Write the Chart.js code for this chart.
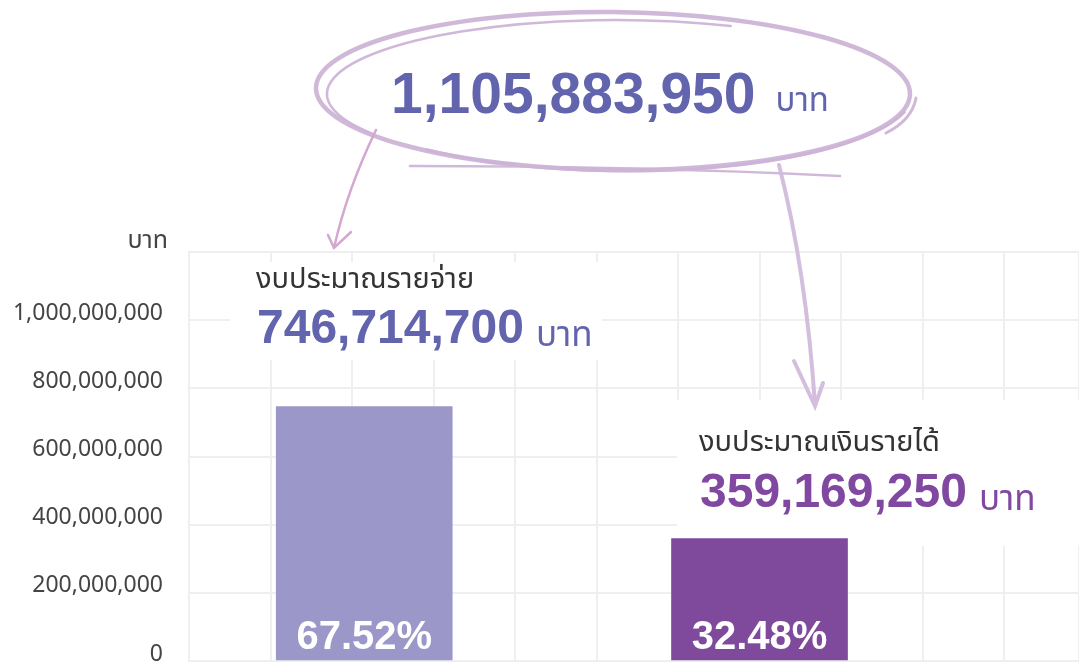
<!DOCTYPE html>
<html>
<head>
<meta charset="utf-8">
<script src="https://cdn.jsdelivr.net/npm/chart.js@4.4.1/dist/chart.umd.min.js"></script>
<style>
  html, body { margin: 0; padding: 0; background: #fff; }
  canvas { display: block; }
</style>
</head>
<body>
<canvas id="budget" width="1079" height="667"></canvas>
<script>
const categories = ['งบประมาณรายจ่าย', 'งบประมาณเงินรายได้'];
const budgetValues = [746714700, 359169250];
const yTicks = [0, 200000000, 400000000, 600000000, 800000000, 1000000000];
const unit = 'บาท';

const barColors = ['#9b97c9', '#7f4a9c'];
const valueColors = ['#6264ad', '#8048a0'];
// where each bar sits on the background grid (grid cells from the left edge)
const barSlots = [2.15, 7.0];

const total = budgetValues.reduce((a, b) => a + b, 0);
const shares = budgetValues.map(v => (v / total * 100).toFixed(2) + '%');
const fmt = n => n.toLocaleString('en-US');

const NUM_FONT = "'Liberation Sans', Arial, sans-serif";
const THAI_FONT = "'Noto Sans Thai', 'Noto Sans', sans-serif";

function arc(ctx, cx, cy, rx, ry, rot, a0, a1, width) {
  ctx.lineWidth = width;
  ctx.beginPath();
  ctx.ellipse(cx, cy, rx, ry, rot, a0, a1);
  ctx.stroke();
}

const decor = {
  id: 'decor',
  beforeDatasetsDraw(chart) {
    // white panels behind the two captions
    const ctx = chart.ctx;
    ctx.save();
    ctx.fillStyle = '#fff';
    ctx.fillRect(230, 262, 372, 98);
    ctx.fillRect(677, 400, 402, 146);
    ctx.restore();
  },
  afterDraw(chart) {
    const ctx = chart.ctx;
    const bars = chart.getDatasetMeta(0).data;
    const PI = Math.PI;
    ctx.save();
    ctx.lineCap = 'round';

    // scribbled ellipse round the total
    ctx.strokeStyle = 'rgba(206,180,215,0.95)';
    arc(ctx, 613, 91, 297, 79, 0.01, 0, PI * 2, 4.5);
    arc(ctx, 616, 94, 289, 74, 0, PI * 0.82, PI * 1.63, 2.5);
    arc(ctx, 617, 88, 297, 83, 0.012, PI * 0.08, PI * 0.72, 3);
    ctx.lineWidth = 3;
    ctx.beginPath();
    ctx.moveTo(916, 98);
    ctx.quadraticCurveTo(912, 120, 886, 133);
    ctx.stroke();
    ctx.lineWidth = 2.5;
    ctx.beginPath();
    ctx.moveTo(410, 166);
    ctx.quadraticCurveTo(640, 166, 840, 176);
    ctx.stroke();

    // arrows from the total down to each caption
    ctx.strokeStyle = '#d4a7d0';
    ctx.lineWidth = 2.5;
    ctx.beginPath();
    ctx.moveTo(376, 130);
    ctx.quadraticCurveTo(347, 190, 334, 248);
    ctx.moveTo(328, 235);
    ctx.lineTo(334, 248);
    ctx.lineTo(351, 232);
    ctx.stroke();
    ctx.strokeStyle = 'rgba(210,186,220,0.95)';
    ctx.lineWidth = 4;
    ctx.beginPath();
    ctx.moveTo(779, 165);
    ctx.quadraticCurveTo(806, 270, 815, 405);
    ctx.moveTo(794, 361);
    ctx.lineTo(815, 406);
    ctx.lineTo(823, 383);
    ctx.stroke();

    // total
    ctx.textBaseline = 'alphabetic';
    ctx.textAlign = 'left';
    ctx.fillStyle = '#6264ad';
    ctx.font = 'bold 57px ' + NUM_FONT;
    const totalText = fmt(total);
    ctx.fillText(totalText, 391, 113);
    const tw = ctx.measureText(totalText).width;
    ctx.font = '33px ' + THAI_FONT;
    ctx.fillText(unit, 391 + tw + 20, 111);

    // captions
    const captions = [
      { x: 256, nameY: 288, valueY: 343 },
      { x: 699, nameY: 451, valueY: 507 }
    ];
    captions.forEach((c, i) => {
      ctx.fillStyle = '#333';
      ctx.font = '29px ' + THAI_FONT;
      ctx.fillText(categories[i], c.x, c.nameY);
      ctx.fillStyle = valueColors[i];
      ctx.font = 'bold 48px ' + NUM_FONT;
      const txt = fmt(budgetValues[i]);
      ctx.fillText(txt, c.x + 1, c.valueY);
      const w = ctx.measureText(txt).width;
      ctx.font = '35px ' + THAI_FONT;
      ctx.fillText(unit, c.x + 1 + w + 12, c.valueY + 3);
    });

    // shares inside the bars
    ctx.fillStyle = '#fff';
    ctx.textAlign = 'center';
    ctx.font = 'bold 40px ' + NUM_FONT;
    bars.forEach((bar, i) => ctx.fillText(shares[i], bar.x, 649));

    // unit over the value axis
    const y = chart.scales.y;
    ctx.fillStyle = '#444';
    ctx.textAlign = 'right';
    ctx.font = '25px ' + THAI_FONT;
    ctx.fillText(unit, 168, y.top - 4);
    ctx.restore();
  }
};

new Chart(document.getElementById('budget'), {
  type: 'bar',
  data: {
    datasets: [{
      label: unit,
      data: budgetValues.map((v, i) => ({ x: barSlots[i], y: v })),
      backgroundColor: barColors,
      borderWidth: 0,
      barThickness: 176
    }]
  },
  options: {
    responsive: false,
    animation: false,
    layout: { padding: { top: 252, left: 0, right: 0, bottom: 6 } },
    plugins: { legend: { display: false }, tooltip: { enabled: false } },
    scales: {
      x: {
        type: 'linear',
        min: 0,
        max: 10.92,
        offset: false,
        afterFit(scale) { scale.height = 0; },
        ticks: { display: false, stepSize: 1 },
        grid: { color: '#efefef', lineWidth: 2, drawTicks: false, offset: false },
        border: { color: '#efefef', width: 2 }
      },
      y: {
        min: 0,
        max: 1200000000,
        afterFit(scale) {
          scale.width = 189;
          scale.paddingTop = 0;
          scale.paddingBottom = 0;
        },
        afterBuildTicks(scale) {
          scale.ticks = yTicks.concat([1200000000]).map(v => ({ value: v }));
        },
        ticks: {
          padding: 26,
          labelOffset: -7,
          color: '#444',
          font: { family: "'Noto Sans', sans-serif", size: 23 },
          callback: v => yTicks.includes(v) ? fmt(v) : ''
        },
        grid: { color: '#efefef', lineWidth: 2, drawTicks: false },
        border: { color: '#efefef', width: 2 }
      }
    }
  },
  plugins: [decor]
});
</script>
</body>
</html>
